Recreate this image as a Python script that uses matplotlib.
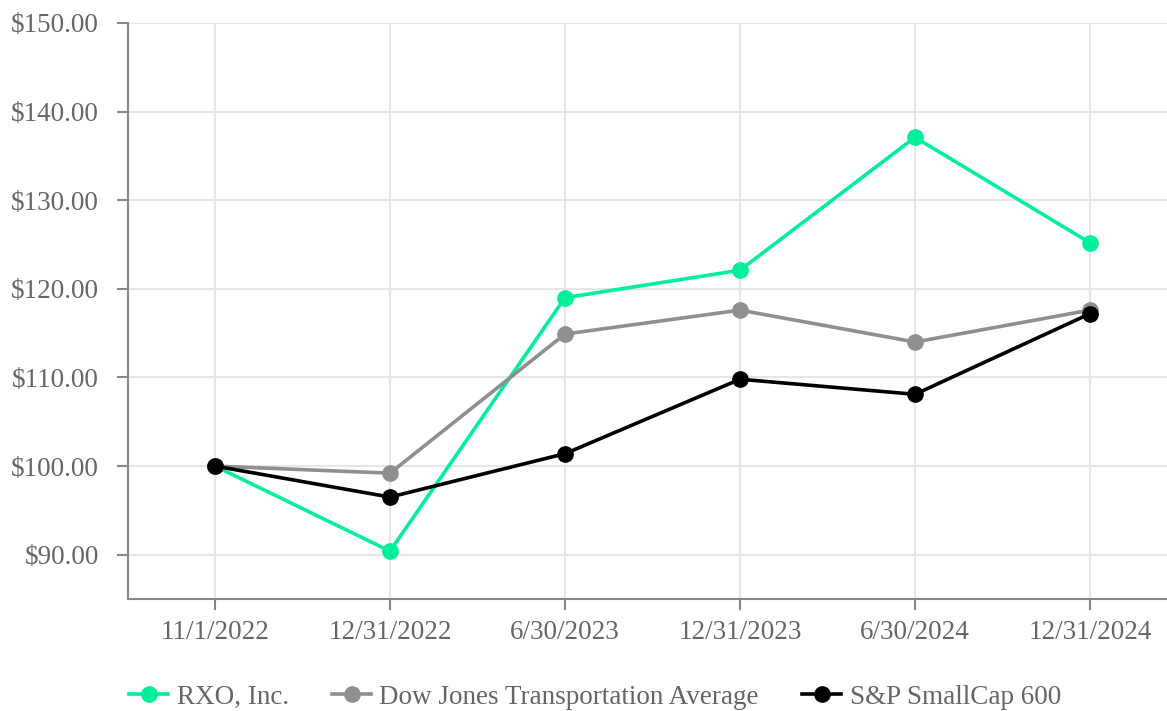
import matplotlib
matplotlib.use("Agg")
import matplotlib.pyplot as plt
from matplotlib.ticker import FuncFormatter

dates = ["11/1/2022", "12/31/2022", "6/30/2023", "12/31/2023", "6/30/2024", "12/31/2024"]
rxo = [100.0, 90.4, 119.0, 122.1, 137.1, 125.2]
djta = [100.0, 99.2, 114.9, 117.6, 114.0, 117.6]
sp600 = [100.0, 96.5, 101.4, 109.8, 108.1, 117.2]
series_names = ["RXO, Inc.", "Dow Jones Transportation Average", "S&P SmallCap 600"]
yticks = [90, 100, 110, 120, 130, 140, 150]

plt.rcParams['font.family'] = ['Liberation Serif', 'DejaVu Serif']
TXT = "#666666"
FS = 19.5

fig = plt.figure(figsize=(11.67, 7.11), dpi=100)
ax = fig.add_axes([128/1167, 1 - 599/711, 1 - 128/1167, (599 - 23)/711])

x = list(range(len(dates)))
colors = ["#00ef9a", "#8f8f8f", "#000000"]
for vals, name, c in zip([rxo, djta, sp600], series_names, colors):
    ax.plot(x, vals, color=c, lw=2.6, marker='o', ms=11, label=name, zorder=3,
            clip_on=False)

ax.set_xlim(-0.497, 5.44)
ax.set_ylim(85, 150)
ax.set_xticks(x)
ax.set_xticklabels(dates)
ax.set_yticks(yticks)
ax.yaxis.set_major_formatter(FuncFormatter(lambda v, p: f"${v:,.2f}"))
ax.grid(True, color="#e6e6e6", lw=1.5, zorder=0)
ax.set_axisbelow(True)
for s in ["top", "right"]:
    ax.spines[s].set_visible(False)
for s in ["left", "bottom"]:
    ax.spines[s].set_color("#888888")
    ax.spines[s].set_linewidth(1.5)
ax.tick_params(axis='both', colors="#888888", labelcolor=TXT, labelsize=FS,
               length=8, width=1.5)
ax.tick_params(axis='y', pad=13)
ax.tick_params(axis='x', pad=7)

handles, labels = ax.get_legend_handles_labels()
leg = fig.legend(handles, labels, loc='center', bbox_to_anchor=(595/1167, 1 - 697/711),
                 ncol=3, frameon=False, fontsize=FS, handlelength=1.45,
                 handletextpad=0.3, columnspacing=1.6, labelcolor=TXT,
                 borderaxespad=0)

fig.savefig("out.png", dpi=100)
